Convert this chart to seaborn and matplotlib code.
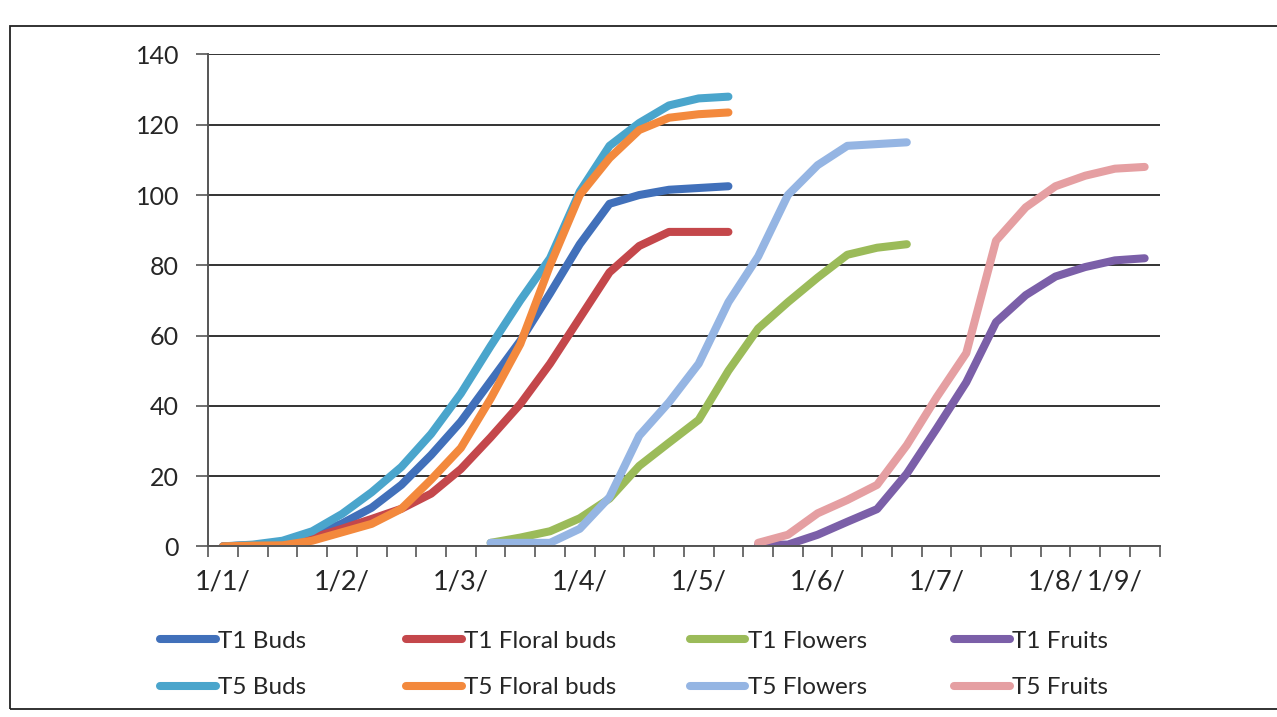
import numpy as np
import pandas as pd
import seaborn as sns
from matplotlib import pyplot as plt
from matplotlib.patches import Rectangle

# Weekly sampling dates (category axis), only some carry a label
n_weeks = 32
date_labels = {0: '1/1/', 4: '1/2/', 8: '1/3/', 12: '1/4/', 16: '1/5/',
               20: '1/6/', 24: '1/7/', 28: '1/8/', 30: '1/9/'}

# Cumulative counts, with the week where each series begins
t1_buds_start = 0
t1_buds = [0, 0.3, 1, 3, 6.5, 11, 17.5, 26, 35.5, 47, 58.5, 72, 86, 97.5, 100, 101.5, 102, 102.5]
t1_floral_start = 0
t1_floral = [0, 0.3, 0.8, 2.4, 5, 7.8, 10.7, 15, 22, 31, 40.5, 52, 65, 78, 85.5, 89.5, 89.5, 89.5]
t1_flowers_start = 9
t1_flowers = [1, 2.5, 4.3, 8, 13.6, 22.9, 29.5, 36, 50, 62, 69.5, 76.5, 83, 85, 86]
t1_fruits_start = 18
t1_fruits = [0.5, 0.5, 3.3, 7, 10.6, 20.7, 33.5, 46.7, 63.8, 71.5, 76.8, 79.5, 81.4, 82]

t5_buds_start = 0
t5_buds = [0, 0.5, 1.6, 4.3, 9.2, 15.4, 22.6, 32, 43.5, 57, 70, 82, 101, 114, 120.5, 125.5, 127.5, 128]
t5_floral_start = 0
t5_floral = [0, 0.2, 0.3, 1.6, 4, 6.4, 10.7, 19, 28, 42, 57.6, 80, 100, 110.5, 118.5, 122, 123, 123.5]
t5_flowers_start = 9
t5_flowers = [1, 1, 1, 5, 14, 31.5, 41, 52, 69.5, 82.5, 100, 108.5, 114, 114.5, 115]
t5_fruits_start = 18
t5_fruits = [1, 3.3, 9.4, 13.2, 17.5, 28.8, 42.4, 55, 87, 96.5, 102.5, 105.5, 107.5, 108]

series = [('T1 Buds', t1_buds_start, t1_buds),
          ('T1 Floral buds', t1_floral_start, t1_floral),
          ('T1 Flowers', t1_flowers_start, t1_flowers),
          ('T1 Fruits', t1_fruits_start, t1_fruits),
          ('T5 Buds', t5_buds_start, t5_buds),
          ('T5 Floral buds', t5_floral_start, t5_floral),
          ('T5 Flowers', t5_flowers_start, t5_flowers),
          ('T5 Fruits', t5_fruits_start, t5_fruits)]

colors = {'T1 Buds': '#4170BA', 'T1 Floral buds': '#C4474B', 'T1 Flowers': '#9BBB59',
          'T1 Fruits': '#7B5FA8', 'T5 Buds': '#4AA5CC', 'T5 Floral buds': '#F3893D',
          'T5 Flowers': '#95B5E3', 'T5 Fruits': '#E59FA2'}

# long format dataframe for seaborn
rows = []
for name, start, vals in series:
    for k, v in enumerate(vals):
        rows.append({'week': start + k, 'count': v, 'series': name})
df = pd.DataFrame(rows)

sns.set_style('white')
plt.rcParams['font.family'] = ['Lato', 'DejaVu Sans']

fig = plt.figure(figsize=(12.77, 7.17), dpi=100)
ax = fig.add_axes([0.163, 0.238, 0.745, 0.686])

sns.lineplot(data=df, x='week', y='count', hue='series', palette=colors,
             hue_order=[s[0] for s in series], estimator=None, sort=False,
             linewidth=5.8, ax=ax, legend=False)
for ln in ax.lines:
    ln.set_solid_capstyle('round')
    ln.set_solid_joinstyle('round')

# y axis / gridlines
ax.set_ylim(0, 140)
ax.set_yticks(np.arange(0, 141, 20))
ax.grid(axis='y', color='#333333', linewidth=1.4)
ax.grid(axis='x', visible=False)
ax.set_axisbelow(True)
ax.tick_params(axis='y', length=9, width=1.2, color='#555555', labelsize=18, pad=12,
               direction='out', left=True)

# category x axis: tick marks between weeks, labels on some weeks
ax.set_xlim(-0.5, n_weeks - 0.5)
ax.set_xticks(np.arange(n_weeks + 1) - 0.5)
ax.set_xticklabels([])
ax.tick_params(axis='x', which='major', length=8, width=1.2, color='#555555',
               direction='out', bottom=True)
ax.set_xticks(list(date_labels.keys()), minor=True)
ax.set_xticklabels(list(date_labels.values()), minor=True)
ax.tick_params(axis='x', which='minor', length=0, labelsize=19.5, pad=17)

for side in ['top', 'right']:
    ax.spines[side].set_visible(False)
for side in ['left', 'bottom']:
    ax.spines[side].set_color('#555555')
    ax.spines[side].set_linewidth(1.4)
ax.set_xlabel('')
ax.set_ylabel('')

# legend: one little legend per column (T1 on top, T5 below), like Excel's equal slots
legend_cols = [('T1 Buds', 'T5 Buds'), ('T1 Floral buds', 'T5 Floral buds'),
               ('T1 Flowers', 'T5 Flowers'), ('T1 Fruits', 'T5 Fruits')]
col_x = [0.125, 0.318, 0.54, 0.747]
for names, x0 in zip(legend_cols, col_x):
    hs = [plt.Line2D([], [], color=colors[n], linewidth=5.8, solid_capstyle='round')
          for n in names]
    fig.legend(hs, names, loc='center left', bbox_to_anchor=(x0, 0.073),
               frameon=False, fontsize=17.5, handlelength=2.3, handletextpad=0.1,
               labelspacing=1.05, borderpad=0, borderaxespad=0)

# outline of the scanned chart area
fig.add_artist(Rectangle((0.008, 0.011), 1.2, 0.953, transform=fig.transFigure,
                         fill=False, edgecolor='#222222', linewidth=1.3))

fig.savefig('out.png', dpi=100)
